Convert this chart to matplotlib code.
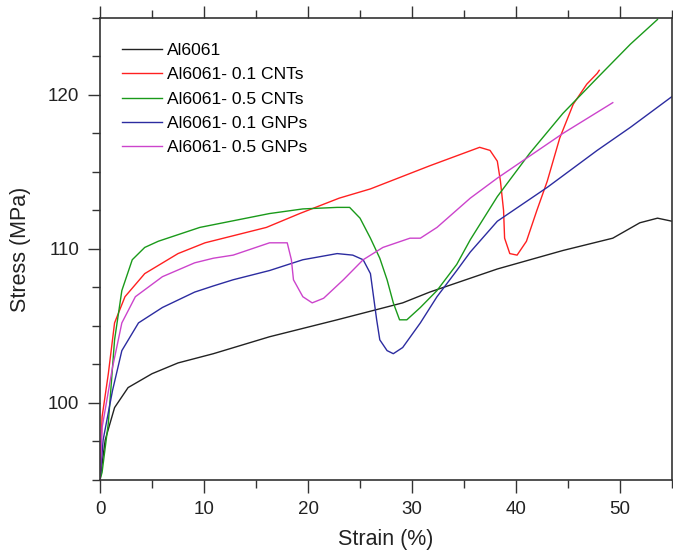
import matplotlib
matplotlib.use('Agg')
import matplotlib.pyplot as plt
from matplotlib.ticker import MultipleLocator

plt.rcParams['font.family'] = ['Liberation Sans', 'DejaVu Sans']

# values (strain %, stress MPa)
al_x = [0, 0.5, 1.4, 2.7, 5.0, 7.5, 10.9, 16.3, 22.8, 29.1, 31.7, 35.6, 38.2, 44.5, 49.3, 51.9, 53.6, 55]
al_y = [95, 97.6, 99.7, 101.0, 101.9, 102.6, 103.2, 104.3, 105.4, 106.5, 107.2, 108.1, 108.7, 109.9, 110.7, 111.7, 112.0, 111.8]

cnt1_x = [0, 0.2, 0.8, 1.4, 2.4, 4.3, 7.5, 10.1, 16, 19.2, 23, 26, 31.7, 36.5, 37.5,
          38.2, 38.5, 38.8, 38.9, 39.4, 40.1, 41.0, 42.0, 43.0, 44.2, 45.5, 46.8, 47.8, 48.0]
cnt1_y = [95, 99.1, 101.9, 105.2, 106.9, 108.4, 109.7, 110.4, 111.4, 112.3, 113.3, 113.9, 115.4, 116.6, 116.4,
          115.7, 114.4, 112.5, 110.7, 109.7, 109.6, 110.5, 112.5, 114.4, 117.2, 119.4, 120.7, 121.4, 121.6]

cnt5_x = [0, 0.2, 0.8, 1.4, 2.1, 3.1, 4.3, 5.6, 9.6, 16.3, 19.5, 22.8, 24.0, 25.0, 26.0, 26.9, 27.6,
          28.2, 28.8, 29.5, 30.8, 32.4, 34.3, 35.6, 38.2, 41.3, 44.5, 47.8, 51, 53.6]
cnt5_y = [95, 95.5, 98.7, 104.1, 107.3, 109.3, 110.1, 110.5, 111.4, 112.3, 112.6, 112.7, 112.7, 112.0, 110.7, 109.4, 108.0,
          106.5, 105.4, 105.4, 106.2, 107.3, 109.0, 110.6, 113.4, 116.2, 118.8, 121.1, 123.3, 124.9]

gnp1_x = [0, 0.3, 1.2, 2.1, 3.7, 6.0, 9.1, 10.9, 12.8, 16.3, 19.5, 22.8, 24.3, 25.3, 26.0, 26.3,
          26.6, 26.9, 27.6, 28.2, 29.1, 30.8, 32.4, 34.3, 35.6, 38.2, 43.0, 47.8, 51, 55]
gnp1_y = [95, 97.6, 100.8, 103.4, 105.2, 106.2, 107.2, 107.6, 108.0, 108.6, 109.3, 109.7, 109.6, 109.3, 108.4, 106.9,
          105.4, 104.1, 103.4, 103.2, 103.6, 105.2, 106.9, 108.6, 109.8, 111.8, 114.0, 116.4, 117.9, 119.9]

gnp5_x = [0, 0.2, 1.2, 2.1, 3.4, 6.0, 9.1, 10.9, 12.8, 16.3, 18.0, 18.4, 18.6, 19.5, 20.4, 21.5,
          23.4, 25.3, 27.2, 29.8, 30.8, 32.4, 35.6, 38.2, 44.5, 49.3]
gnp5_y = [95, 98.4, 102.3, 105.2, 106.9, 108.2, 109.1, 109.4, 109.6, 110.4, 110.4, 109.3, 108.0, 106.9, 106.5, 106.8,
          108.0, 109.3, 110.1, 110.7, 110.7, 111.4, 113.3, 114.6, 117.5, 119.5]

labels = ['Al6061', 'Al6061- 0.1 CNTs', 'Al6061- 0.5 CNTs', 'Al6061- 0.1 GNPs', 'Al6061- 0.5 GNPs']
colors = ['#222222', '#ff2020', '#1a9a1a', '#2c2ca0', '#cc44cc']

fig = plt.figure(figsize=(6.73, 5.54), dpi=100)
ax = fig.add_axes([0.1486, 0.1336, 0.850, 0.834])

series = [(al_x, al_y), (cnt1_x, cnt1_y), (cnt5_x, cnt5_y), (gnp1_x, gnp1_y), (gnp5_x, gnp5_y)]
for (xs, ys), lab, c in zip(series, labels, colors):
    ax.plot(xs, ys, color=c, lw=1.0, label=lab)

ax.set_xlim(0, 55)
ax.set_ylim(95, 125)
ax.xaxis.set_major_locator(MultipleLocator(10))
ax.xaxis.set_minor_locator(MultipleLocator(5))
ax.yaxis.set_major_locator(MultipleLocator(10))
ax.yaxis.set_minor_locator(MultipleLocator(2.5))
ax.tick_params(which='both', direction='out', color='#333333', width=1.0,
               top=True, labelsize=13.5, labelcolor='#222222', pad=6)
ax.tick_params(which='major', length=9)
ax.tick_params(which='minor', length=6)
for s in ax.spines.values():
    s.set_color('#333333')
    s.set_linewidth(1.2)

ax.set_xlabel('Strain (%)', fontsize=15.5, color='#222222', labelpad=8)
ax.set_ylabel('Stress (MPa)', fontsize=15.5, color='#222222', labelpad=12)

ax.legend(loc='upper left', bbox_to_anchor=(0.02, 0.969), frameon=False, fontsize=12.6,
          handlelength=2.3, handletextpad=0.3, labelspacing=0.52, borderaxespad=0.2)

fig.savefig('out.png', dpi=100)
